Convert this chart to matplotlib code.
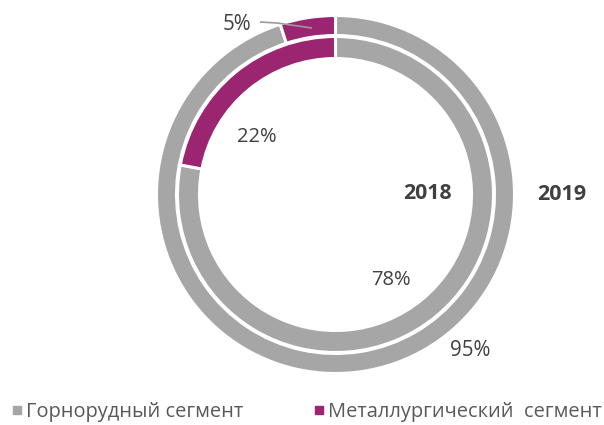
import matplotlib
matplotlib.use("Agg")
import matplotlib.pyplot as plt
from matplotlib.lines import Line2D

plt.rcParams['font.family'] = ['Open Sans', 'DejaVu Sans']

# --- data ---
segments = ["Горнорудный сегмент", "Металлургический  сегмент"]
share_2019 = [95, 5]
share_2018 = [78, 22]
years = ["2019", "2018"]
colors = ["#A6A6A6", "#9B2570"]
text_color = "#404040"

# geometry in reference pixels (1 data unit = 177.5 px)
PX = 177.5
cx, cy = 335.5, 194.5

def to_data(x, y):
    return (x - cx) / PX, (cy - y) / PX

fig = plt.figure(figsize=(6.04, 4.25), dpi=100)
ax = fig.add_axes([(cx - PX) / 604, (425 - cy - PX) / 425, 2 * PX / 604, 2 * PX / 425])

edge = dict(edgecolor="white", linewidth=2.2)
ax.pie(share_2019, radius=179 / PX, colors=colors, startangle=90, counterclock=False,
       wedgeprops=dict(width=20 / PX, **edge))
ax.pie(share_2018, radius=158 / PX, colors=colors, startangle=90, counterclock=False,
       wedgeprops=dict(width=22 / PX, **edge))
ax.set_xlim(-1, 1)
ax.set_ylim(-1, 1)
ax.set_aspect("equal")
ax.axis("off")

# value labels
outer_pos = [(470, 350), (237, 25)]
inner_pos = [(391, 280), (257, 137)]
for v, p in zip(share_2019, outer_pos):
    ax.text(*to_data(*p), f"{v}%", ha="center", va="center", fontsize=14.8, color=text_color)
for v, p in zip(share_2018, inner_pos):
    ax.text(*to_data(*p), f"{v}%", ha="center", va="center", fontsize=14.5, color=text_color)

# leader line for the small 5% slice
lx, ly = zip(*[to_data(260, 22), to_data(277, 23), to_data(312, 28)])
ax.plot(lx, ly, color="#9A9A9A", linewidth=1.2, solid_capstyle="butt")

# ring titles
ax.text(*to_data(562, 195), years[0], ha="center", va="center", fontsize=15.5,
        fontweight="bold", color=text_color, clip_on=False)
ax.text(*to_data(427, 194), years[1], ha="center", va="center", fontsize=15.3,
        fontweight="bold", color=text_color)

handles = [Line2D([], [], marker="s", linestyle="none", markersize=5.2,
                  markerfacecolor=c, markeredgecolor=c) for c in colors]
fig.legend(handles, segments, loc="center left", bbox_to_anchor=(11.5 / 604, 13 / 425),
           ncol=2, frameon=False, fontsize=14.4, labelcolor="#595959",
           handlelength=0.5, handletextpad=0.2, columnspacing=3.55,
           borderpad=0, borderaxespad=0)

fig.savefig("out.png", dpi=100)
